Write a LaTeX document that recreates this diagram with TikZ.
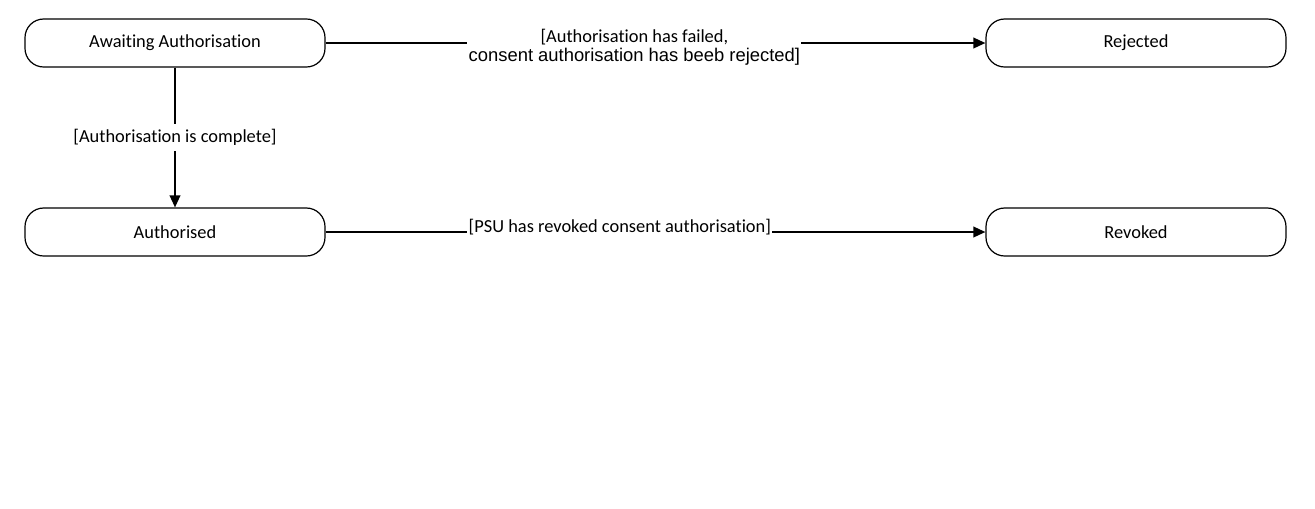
\documentclass[tikz,border=0pt]{standalone}
\usepackage{fontspec}
\setmainfont[Ligatures=NoCommon]{Carlito}
\newfontfamily\arialfont{Liberation Sans}
\usetikzlibrary{arrows.meta}

\begin{document}
\begin{tikzpicture}[x=0.75pt,y=-0.75pt,font=\fontsize{13.8}{14.3}\selectfont]

%
% Styles
%
\tikzstyle{state} = [rectangle,draw,rounded corners=14pt,minimum width=225pt,minimum height=36pt,line width=0.9pt]
\tikzstyle{trans} = [line width=1.2pt,-{Triangle[length=9pt,width=8pt]}]
\tikzstyle{guard} = [fill=white,inner sep=1pt]

\useasboundingbox (0,0) rectangle (1315,508);

\node[state] (await)  at ( 175, 43) {Awaiting Authorisation};
\node[state] (reject) at (1136, 43) {Rejected};
\node[state] (auth)   at ( 175,232) {Authorised};
\node[state] (revoke) at (1136,232) {Revoked};

\draw[trans] (await) -- node[guard,pos=0.468,align=center,yshift=-3.5pt] {[Authorisation has failed,\\{\arialfont consent authorisation has beeb rejected]}} (reject);
\draw[trans] (await) -- node[guard,inner ysep=4pt] {[Authorisation is complete]} (auth);
\draw[trans] (auth) -- node[guard,pos=0.446,anchor=base] {[PSU has revoked consent authorisation]} (revoke);

\end{tikzpicture}
\end{document}
